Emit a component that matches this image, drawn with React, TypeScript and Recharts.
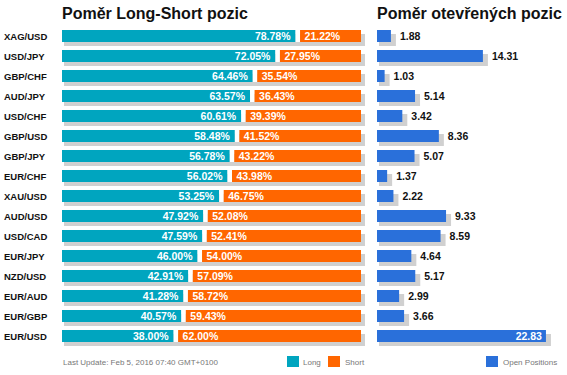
import { BarChart, Bar, XAxis, YAxis, LabelList } from 'recharts'

const pairs = [
  'XAG/USD', 'USD/JPY', 'GBP/CHF', 'AUD/JPY', 'USD/CHF', 'GBP/USD', 'GBP/JPY', 'EUR/CHF',
  'XAU/USD', 'AUD/USD', 'USD/CAD', 'EUR/JPY', 'NZD/USD', 'EUR/AUD', 'EUR/GBP', 'EUR/USD',
]
const longPct = [78.78, 72.05, 64.46, 63.57, 60.61, 58.48, 56.78, 56.02, 53.25, 47.92, 47.59, 46.0, 42.91, 41.28, 40.57, 38.0]
const shortPct = [21.22, 27.95, 35.54, 36.43, 39.39, 41.52, 43.22, 43.98, 46.75, 52.08, 52.41, 54.0, 57.09, 58.72, 59.43, 62.0]
const openPositions = [1.88, 14.31, 1.03, 5.14, 3.42, 8.36, 5.07, 1.37, 2.22, 9.33, 8.59, 4.64, 5.17, 2.99, 3.66, 22.83]

const LONG = '#00A5BF'
const SHORT = '#FF6600'
const OPEN = '#2A70DA'
const SHADOW = '#D0D0D0'
const FONT = 'Arial, "Liberation Sans", sans-serif'

const rows = pairs.map((pair, i) => ({
  pair,
  long: longPct[i],
  short: shortPct[i],
  open: openPositions[i],
}))

// long segment draws the shadow for the whole row first
function LongShape(props: any) {
  const { x, y, width, height, payload } = props
  const total = (width / payload.long) * (payload.long + payload.short)
  return (
    <g>
      <rect x={x + 2} y={y + 4} width={total + 2} height={height} fill={SHADOW} />
      <rect x={x} y={y} width={Math.max(width - 2, 0)} height={height} fill={LONG} />
    </g>
  )
}

function ShortShape(props: any) {
  const { x, y, width, height } = props
  return (
    <g>
      <rect x={x - 2} y={y} width={4.5} height={height} fill="#fff" />
      <rect x={x + 2.5} y={y} width={Math.max(width - 2.5, 0)} height={height} fill={SHORT} />
    </g>
  )
}

function OpenShape(props: any) {
  const { x, y, width, height } = props
  return (
    <g>
      <rect x={x + 2} y={y + 4} width={width + 3} height={height} fill={SHADOW} />
      <rect x={x} y={y} width={width} height={height} fill={OPEN} />
    </g>
  )
}

const pctText = (v: number) => `${v.toFixed(2)}%`

function LongLabel(props: any) {
  const { x, y, width, height, value } = props
  return (
    <text x={x + width - 7} y={y + height / 2} textAnchor="end" dominantBaseline="central"
      fill="#fff" fontSize={10.5} fontWeight="bold" fontFamily={FONT}>
      {pctText(value)}
    </text>
  )
}

function ShortLabel(props: any) {
  const { x, y, height, value } = props
  return (
    <text x={x + 7} y={y + height / 2} textAnchor="start" dominantBaseline="central"
      fill="#fff" fontSize={10.5} fontWeight="bold" fontFamily={FONT}>
      {pctText(value)}
    </text>
  )
}

function OpenLabel(props: any) {
  const { x, y, width, height, value } = props
  const inside = x + width + 40 > 197
  return (
    <text x={inside ? x + width - 4 : x + width + 9} y={y + height / 2}
      textAnchor={inside ? 'end' : 'start'} dominantBaseline="central"
      fill={inside ? '#fff' : '#111'} fontSize={10.5} fontWeight="bold" fontFamily={FONT}>
      {value.toFixed(2)}
    </text>
  )
}

function PairTick(props: any) {
  const { y, payload } = props
  return (
    <text x={4} y={y} dominantBaseline="central" fill="#111" fontSize={9.5}
      fontWeight="bold" fontFamily={FONT}>
      {payload.value}
    </text>
  )
}

const titleStyle: React.CSSProperties = {
  position: 'absolute', top: 4, fontFamily: FONT, fontWeight: 'bold', fontSize: 16,
  color: '#111', whiteSpace: 'nowrap', lineHeight: '20px',
}

const smallText: React.CSSProperties = {
  position: 'absolute', fontFamily: FONT, fontSize: 8, color: '#777', whiteSpace: 'nowrap',
  lineHeight: '11px',
}

function Swatch({ left, color }: { left: number; color: string }) {
  return <div style={{ position: 'absolute', left, top: 356, width: 12, height: 11, background: color }} />
}

export default function App() {
  return (
    <div style={{ position: 'absolute', left: 0, top: 0, width: 567, height: 375, background: '#fff', overflow: 'hidden' }}>
      <div style={{ ...titleStyle, left: 62 }}>Poměr Long-Short pozic</div>
      <div style={{ ...titleStyle, left: 377 }}>Poměr otevřených pozic</div>

      <div style={{ position: 'absolute', left: 0, top: 0 }}>
        <BarChart layout="vertical" width={370} height={375} data={rows}
          margin={{ top: 26, right: 9, left: 0, bottom: 29 }} barCategoryGap={4}>
          <XAxis type="number" domain={[0, 100]} hide />
          <YAxis type="category" dataKey="pair" width={62} axisLine={false} tickLine={false}
            interval={0} tick={<PairTick />} />
          <Bar dataKey="long" stackId="ls" shape={<LongShape />} isAnimationActive={false}>
            <LabelList dataKey="long" content={<LongLabel />} />
          </Bar>
          <Bar dataKey="short" stackId="ls" shape={<ShortShape />} isAnimationActive={false}>
            <LabelList dataKey="short" content={<ShortLabel />} />
          </Bar>
        </BarChart>
      </div>

      <div style={{ position: 'absolute', left: 370, top: 0 }}>
        <BarChart layout="vertical" width={197} height={375} data={rows}
          margin={{ top: 26, right: 5, left: 7, bottom: 29 }} barCategoryGap={4}>
          <XAxis type="number" domain={[0, 25]} hide />
          <YAxis type="category" dataKey="pair" hide />
          <Bar dataKey="open" shape={<OpenShape />} isAnimationActive={false}>
            <LabelList dataKey="open" content={<OpenLabel />} />
          </Bar>
        </BarChart>
      </div>

      <div style={{ ...smallText, left: 63, top: 357 }}>Last Update: Feb 5, 2016 07:40 GMT+0100</div>
      <Swatch left={287} color={LONG} />
      <div style={{ ...smallText, left: 303, top: 357 }}>Long</div>
      <Swatch left={328} color={SHORT} />
      <div style={{ ...smallText, left: 345, top: 357 }}>Short</div>
      <Swatch left={486} color={OPEN} />
      <div style={{ ...smallText, left: 503, top: 357 }}>Open Positions</div>
    </div>
  )
}
